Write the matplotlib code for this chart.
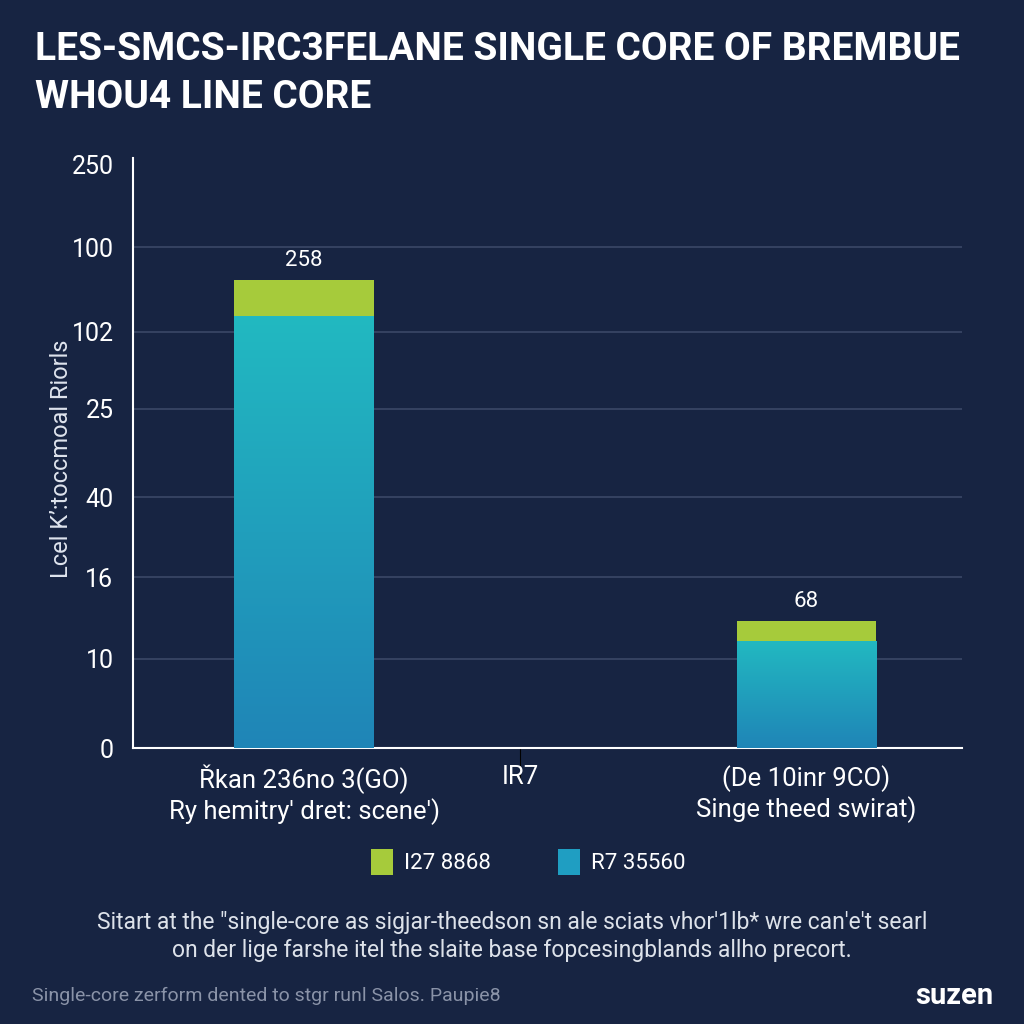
import numpy as np
import matplotlib.pyplot as plt
from matplotlib.colors import LinearSegmentedColormap
from matplotlib.patches import Patch

# data (axis units; tick labels are the printed ones)
categories = ["Řkan 236no 3(GO)\nRy hemitry' dret: scene')", "IR7", "(De 10inr 9CO)\nSinge theed swirat)"]
cat_pos = [0, 0.86, 2]
base_vals = [185.2, 0, 45.9]     # teal part
top_vals = [15.5, 0, 8.6]        # green cap
value_labels = ["258", "", "68"]
ytick_pos = [0, 38.2, 73.3, 107.6, 145.4, 178.4, 214.8, 250]
ytick_labels = ["0", "10", "16", "40", "25", "102", "100", "250"]
legend_labels = ["I27 8868", "R7 35560"]

bg = "#172442"
green = "#a6cb3b"
teal_top = "#22b9c1"
teal_bot = "#1f85b7"

plt.rcParams['font.family'] = ['Roboto', 'DejaVu Sans']

fig = plt.figure(figsize=(10.24, 10.24), dpi=100, facecolor=bg)
ax = fig.add_axes([133/1024, 1 - 748/1024, (962-133)/1024, (748-158)/1024])
ax.set_facecolor(bg)

width = 0.554
bars = ax.bar(cat_pos, base_vals, width=width, color=teal_top, zorder=3)
ax.bar(cat_pos, top_vals, bottom=base_vals, width=width, color=green, zorder=3)

# vertical gradient on the teal part
cmap = LinearSegmentedColormap.from_list("tg", [teal_bot, teal_top])
grad = np.linspace(0, 1, 256).reshape(-1, 1)
for b in bars:
    if b.get_height() <= 0:
        continue
    x0, h = b.get_x(), b.get_height()
    im = ax.imshow(grad, cmap=cmap, origin="lower", aspect="auto",
                   extent=[x0, x0 + width, 0, h], zorder=4)
    im.set_clip_path(b)

for x, b, t, lab in zip(cat_pos, base_vals, top_vals, value_labels):
    if lab:
        ax.text(x, b + t + 4, lab, ha="center", va="bottom", color="white", fontsize=16)

ax.set_xlim(-0.681, 2.62)
ax.set_ylim(0, 253)
ax.set_yticks(ytick_pos)
ax.set_yticklabels(ytick_labels)
ax.set_xticks(cat_pos)
ax.set_xticklabels(categories, fontsize=18.5, color="white", linespacing=1.2)
ax.tick_params(axis="y", length=0, pad=14, labelsize=18, labelcolor="white")
ax.tick_params(axis="x", length=0, pad=12)
mid = ax.xaxis.get_major_ticks()[1]
mid.tick1line.set_markersize(26)
mid.tick1line.set_color("white")

ax.grid(axis="y", color="#3b4867", linewidth=1.2, zorder=0)
for t in ax.yaxis.get_gridlines()[:1] + ax.yaxis.get_gridlines()[-1:]:
    t.set_visible(False)
for s in ["top", "right"]:
    ax.spines[s].set_visible(False)
for s in ["left", "bottom"]:
    ax.spines[s].set_color("white")
    ax.spines[s].set_linewidth(1.5)

ax.set_ylabel("Lcel Kʼ:toccmoal Riorls", color="#dfe4ee", fontsize=17)
ax.yaxis.set_label_coords(-0.072, 0.49)

fig.text(35/1024, 1 - 50/1024, "LES-SMCS-IRC3FELANE SINGLE CORE OF BREMBUE",
         color="white", fontsize=28, fontweight="bold", va="center", ha="left")
fig.text(35/1024, 1 - 97/1024, "WHOU4 LINE CORE",
         color="white", fontsize=28, fontweight="bold", va="center", ha="left")

handles = [Patch(facecolor=green), Patch(facecolor="#1f9ec2")]
fig.legend(handles, legend_labels, loc="center", bbox_to_anchor=(0.516, 1 - 862/1024),
           ncol=2, frameon=False, fontsize=16, labelcolor="white",
           handlelength=1.0, handleheight=1.4, columnspacing=3.0, handletextpad=0.5)

fig.text(0.5, 1 - 922/1024,
         "Sitart at the \"single-core as sigjar-theedson sn ale sciats vhor'1lb* wre can'e't searl",
         color="#dde2ea", fontsize=16.5, ha="center", va="center")
fig.text(0.5, 1 - 950/1024,
         "on der lige farshe itel the slaite base fopcesingblands allho precort.",
         color="#dde2ea", fontsize=16.5, ha="center", va="center")
fig.text(32/1024, 1 - 996/1024, "Single-core zerform dented to stgr runl Salos. Paupie8",
         color="#8a93a8", fontsize=14, ha="left", va="center")
fig.text(993/1024, 1 - 996/1024, "suzen", color="white", fontsize=21,
         fontweight="bold", ha="right", va="center")

fig.savefig("out.png", dpi=100, facecolor=bg)
